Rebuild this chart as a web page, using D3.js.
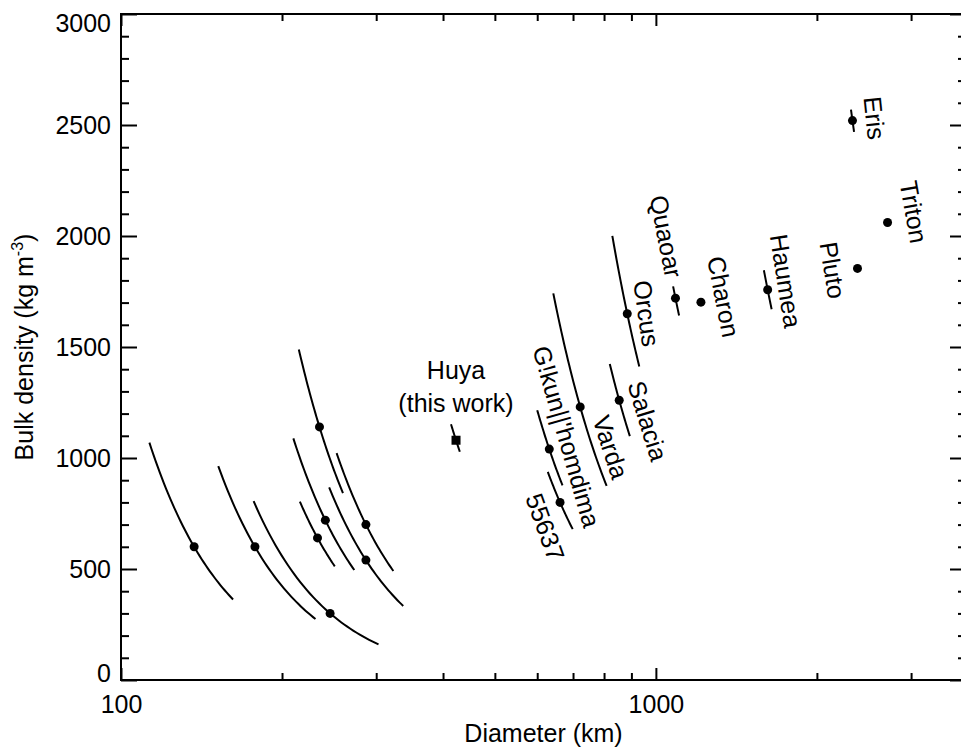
<!DOCTYPE html>
<html><head><meta charset="utf-8">
<script src="https://cdn.jsdelivr.net/npm/d3@7"></script>
<style>
body{margin:0;background:#fff}
text{font-family:"Liberation Sans",Arial,Helvetica,sans-serif;fill:#000}
</style>
</head><body>
<svg id="c" width="961" height="749"></svg>
<script>
// ---------------- data ----------------
// Small binary TNOs: diameter (km), bulk density (kg m^-3), diameter range of the constant-mass curve
const smallDiam   = [137, 178, 246, 235, 233, 241, 287, 287];
const smallDens   = [600, 600, 300, 1140, 640, 720, 540, 700];
const smallDiamLo = [113, 152, 177, 215, 216, 210, 245, 253];
const smallDiamHi = [162, 231, 303, 260, 251, 273, 337, 323];

// Named objects
const names  = ["Huya", "Orcus", "Varda", "Salacia", "G!kun||'homdima", "55637", "Quaoar", "Charon", "Haumea", "Pluto", "Triton", "Eris"];
const diam   = [423, 884, 722, 854, 632, 662, 1088, 1214, 1618, 2382, 2711, 2331];
const dens   = [1080, 1650, 1230, 1260, 1040, 800, 1720, 1702, 1758, 1854, 2061, 2520];
const diamLo = [414, 829, 643, 820, 600, 628, 1077, null, 1592, null, null, 2316];
const diamHi = [430, 931, 809, 894, 669, 699, 1105, null, 1646, null, null, 2347];

const xMajorTicks = [100, 1000];
const xMinorTicks = [200, 300, 400, 500, 600, 700, 800, 900, 2000, 3000];
const yMajorTicks = [0, 500, 1000, 1500, 2000, 2500, 3000];
const yMinorTicks = d3.range(0, 3001, 100).filter(v => v % 500 !== 0);

const xTitle = "Diameter (km)";
const yTitle = "Bulk density (kg m";
const yTitleSup = "-3";
const huyaNote = "(this work)";

// ---------------- layout ----------------
const svg = d3.select("#c");
const L = 121, R = 966, T = 14, B = 680;
const x = d3.scaleLog().domain([100, 3800]).range([L, R]);
const y = d3.scaleLinear().domain([0, 3000]).range([B, T]);
const FS = 25;

// constant-mass curve: density scales as D^-3
function massCurve(d0, r0, lo, hi) {
  const n = 40, pts = [];
  const a = Math.log10(lo), b = Math.log10(hi);
  for (let i = 0; i <= n; i++) {
    const d = Math.pow(10, a + (b - a) * i / n);
    pts.push([d, r0 * Math.pow(d0 / d, 3)]);
  }
  return pts;
}
const line = d3.line().x(p => x(p[0])).y(p => y(p[1]));

// axes
function styleAxis(g) {
  g.select(".domain").remove();
  g.selectAll("line").attr("stroke", "#000").attr("stroke-width", 2);
  g.selectAll("text").style("font-size", FS + "px").attr("fill", "#000");
}
// bottom
svg.append("g").attr("transform", `translate(0,${B})`)
  .call(d3.axisBottom(x).tickValues(xMajorTicks).tickSize(-12).tickSizeOuter(0).tickPadding(15).tickFormat(d3.format("d")))
  .call(styleAxis)
  .call(g => g.selectAll("text").attr("font-family", null));
svg.append("g").attr("transform", `translate(0,${B})`)
  .call(d3.axisBottom(x).tickValues(xMinorTicks).tickSize(-7).tickSizeOuter(0).tickFormat(""))
  .call(styleAxis);
// top
svg.append("g").attr("transform", `translate(0,${T})`)
  .call(d3.axisTop(x).tickValues(xMajorTicks).tickSize(-12).tickSizeOuter(0).tickFormat(""))
  .call(styleAxis);
svg.append("g").attr("transform", `translate(0,${T})`)
  .call(d3.axisTop(x).tickValues(xMinorTicks).tickSize(-7).tickSizeOuter(0).tickFormat(""))
  .call(styleAxis);
// left
svg.append("g").attr("transform", `translate(${L},0)`)
  .call(d3.axisLeft(y).tickValues(yMajorTicks).tickSize(-16).tickSizeOuter(0).tickPadding(10).tickFormat(d3.format("d")))
  .call(styleAxis)
  .call(g => g.selectAll(".tick text").attr("y", d => d === 3000 ? 9 : (d === 0 ? -7 : 0)));
svg.append("g").attr("transform", `translate(${L},0)`)
  .call(d3.axisLeft(y).tickValues(yMinorTicks).tickSize(-8).tickSizeOuter(0).tickFormat(""))
  .call(styleAxis);
// right
svg.append("g").attr("transform", `translate(${R},0)`)
  .call(d3.axisRight(y).tickValues(yMajorTicks).tickSize(-16).tickSizeOuter(0).tickFormat(""))
  .call(styleAxis);
svg.append("g").attr("transform", `translate(${R},0)`)
  .call(d3.axisRight(y).tickValues(yMinorTicks).tickSize(-8).tickSizeOuter(0).tickFormat(""))
  .call(styleAxis);

// frame
svg.append("rect").attr("x", L).attr("y", T).attr("width", R - L).attr("height", B - T)
  .attr("fill", "none").attr("stroke", "#000").attr("stroke-width", 2);

// titles
svg.append("text").attr("x", (L + R) / 2).attr("y", 742).attr("text-anchor", "middle")
  .style("font-size", FS + "px").text(xTitle);
const yt = svg.append("text").attr("transform", `translate(33,${(T + B) / 2}) rotate(-90)`)
  .attr("text-anchor", "middle").style("font-size", FS + "px");
yt.append("tspan").text(yTitle);
yt.append("tspan").attr("dy", -10).style("font-size", "16px").text(yTitleSup);
yt.append("tspan").attr("dy", 10).text(")");

// small binaries
const small = smallDiam.map((d, i) => ({d, r: smallDens[i], lo: smallDiamLo[i], hi: smallDiamHi[i]}));
svg.append("g").selectAll("path").data(small).join("path")
  .attr("d", o => line(massCurve(o.d, o.r, o.lo, o.hi)))
  .attr("fill", "none").attr("stroke", "#000").attr("stroke-width", 2);
svg.append("g").selectAll("circle").data(small).join("circle")
  .attr("cx", o => x(o.d)).attr("cy", o => y(o.r)).attr("r", 4.5).attr("fill", "#000");

// named objects
const objs = names.map((n, i) => ({n, d: diam[i], r: dens[i], lo: diamLo[i], hi: diamHi[i]}));
svg.append("g").selectAll("path").data(objs.filter(o => o.lo !== null)).join("path")
  .attr("d", o => line(massCurve(o.d, o.r, o.lo, o.hi)))
  .attr("fill", "none").attr("stroke", "#000").attr("stroke-width", 2);
svg.append("g").selectAll("circle").data(objs.filter(o => o.n !== "Huya")).join("circle")
  .attr("cx", o => x(o.d)).attr("cy", o => y(o.r)).attr("r", 4.5).attr("fill", "#000");
const huya = objs.find(o => o.n === "Huya");
svg.append("rect").attr("x", x(huya.d) - 4.5).attr("y", y(huya.r) - 4.5)
  .attr("width", 9).attr("height", 9).attr("fill", "#000");

// label placement (pixel offsets from each point, rotation in degrees)
const labelLayout = {
  "Orcus":   [6, -32, 82],
  "Varda":   [12, 12, 72],
  "Salacia": [8, -16, 73],
  "G!kun||'homdima": [-17, -100, 74],
  "55637":   [-35, -5, 70],
  "Quaoar":  [-26, -101, 79],
  "Charon":  [6, -44, 79],
  "Haumea":  [2, -54, 81],
  "Pluto":   [-38, -25, 81],
  "Triton":  [12, -40, 80],
  "Eris":    [11, -23, 84]
};
objs.filter(o => labelLayout[o.n]).forEach(o => {
  const [dx, dy, rot] = labelLayout[o.n];
  svg.append("text")
    .attr("transform", `translate(${x(o.d) + dx},${y(o.r) + dy}) rotate(${rot})`)
    .style("font-size", FS + "px").text(o.n);
});
svg.append("text").attr("x", x(huya.d)).attr("y", y(huya.r) - 61).attr("text-anchor", "middle")
  .style("font-size", FS + "px").text(huya.n);
svg.append("text").attr("x", x(huya.d)).attr("y", y(huya.r) - 28).attr("text-anchor", "middle")
  .style("font-size", FS + "px").text(huyaNote);
</script>
</body></html>
